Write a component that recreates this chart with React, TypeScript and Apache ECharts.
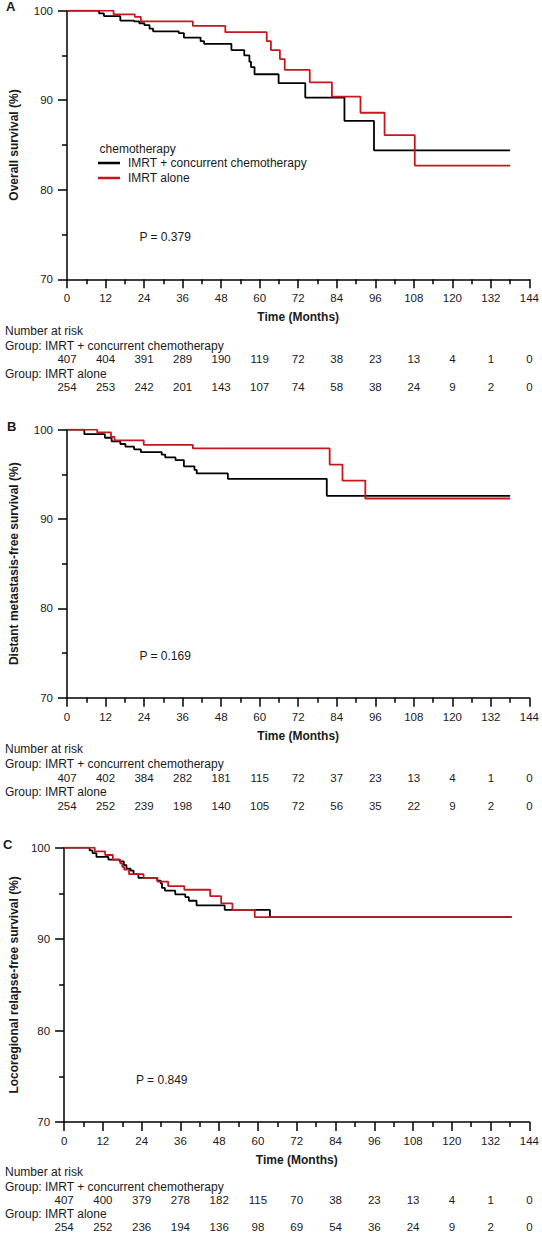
import React, { useEffect, useRef } from "react";
import * as echarts from "echarts";

// ---- Data ----
const monthTicks = [0, 12, 24, 36, 48, 60, 72, 84, 96, 108, 120, 132, 144];
const groupNames = ["IMRT + concurrent chemotherapy", "IMRT alone"];

// Panel A: Overall survival
const osChemoTimes = [0, 10, 11.5, 16.6, 20.9, 22.5, 24.1, 25.7, 26.8, 34.8, 36.4, 41.6, 42.7, 51.2, 55.2, 56.8, 57.3, 58.4, 65.9, 74.2, 86.4, 95.6, 138];
const osChemoSurv = [100, 99.7, 99.4, 98.9, 98.8, 98.6, 98.4, 98.0, 97.7, 97.5, 97.0, 96.6, 96.3, 95.6, 95.0, 94.3, 93.7, 92.9, 91.9, 90.3, 87.7, 84.4, 84.4];
const osAloneTimes = [0, 14.5, 21.1, 23, 39.2, 49.3, 62.2, 63.5, 66.3, 67.8, 75.6, 82.5, 91.4, 98.9, 108.3, 138];
const osAloneSurv = [100, 99.6, 99.3, 98.8, 98.3, 97.6, 96.6, 95.6, 94.6, 93.4, 92.0, 90.4, 88.6, 86.1, 82.7, 82.7];
const osRiskChemo = [407, 404, 391, 289, 190, 119, 72, 38, 23, 13, 4, 1, 0];
const osRiskAlone = [254, 253, 242, 201, 143, 107, 74, 58, 38, 24, 9, 2, 0];

// Panel B: Distant metastasis-free survival
const dmfsChemoTimes = [0, 5.4, 11.8, 13.9, 16.6, 18.2, 20.9, 23, 29.5, 30.6, 33.8, 36.4, 39.7, 40.4, 50.1, 80.9, 138];
const dmfsChemoSurv = [100, 99.5, 99.1, 98.7, 98.4, 98.1, 97.8, 97.5, 97.2, 96.9, 96.6, 95.9, 95.5, 95.1, 94.5, 92.6, 92.6];
const dmfsAloneTimes = [0, 9.4, 13.7, 14.8, 23.9, 39.2, 81.8, 85.8, 92.9, 138];
const dmfsAloneSurv = [100, 99.7, 99.2, 98.8, 98.3, 97.9, 96.1, 94.3, 92.3, 92.3];
const dmfsRiskChemo = [407, 402, 384, 282, 181, 115, 72, 37, 23, 13, 4, 1, 0];
const dmfsRiskAlone = [254, 252, 239, 198, 140, 105, 72, 56, 35, 22, 9, 2, 0];

// Panel C: Locoregional relapse-free survival
const lrfsChemoTimes = [0, 7.9, 8.8, 10, 13.7, 17.2, 18.5, 19.3, 20.6, 21.5, 23, 28.8, 29.9, 30.3, 31.2, 34.4, 37.5, 38.6, 41, 49.7, 63.7, 138.5];
const lrfsChemoSurv = [100, 99.7, 99.4, 99.0, 98.7, 98.5, 98.1, 97.7, 97.5, 97.1, 96.7, 96.4, 96.1, 95.6, 95.3, 94.9, 94.6, 94.2, 93.7, 93.2, 92.4, 92.4];
const lrfsAloneTimes = [0, 9.5, 12.7, 15.1, 17.4, 18, 18.6, 20.1, 24.6, 28.9, 32.2, 37.2, 45.2, 48.6, 52.1, 59, 138.5];
const lrfsAloneSurv = [100, 99.6, 99.2, 98.7, 98.3, 97.9, 97.6, 97.1, 96.7, 96.3, 95.8, 95.4, 94.7, 93.9, 93.2, 92.4, 92.4];
const lrfsRiskChemo = [407, 400, 379, 278, 182, 115, 70, 38, 23, 13, 4, 1, 0];
const lrfsRiskAlone = [254, 252, 236, 194, 136, 98, 69, 54, 36, 24, 9, 2, 0];

const panelLetters = ["A", "B", "C"];
const yTitles = [
  "Overall survival (%)",
  "Distant metastasis-free survival (%)",
  "Locoregional relapse-free survival (%)",
];
const pValues = ["P = 0.379", "P = 0.169", "P = 0.849"];

// ---- Layout / style ----
const FONT = "'Liberation Sans', Arial, sans-serif";
const TEXT = "#1a1a1a";
const BLACK = "#000000";
const RED = "#c8161e";

const grids = [
  { left: 65.7, top: 10.7, width: 464.6, height: 268.6 },
  { left: 65.7, top: 429.7, width: 464.6, height: 268 },
  { left: 60.3, top: 847.7, width: 471.7, height: 275.6 },
];
const riskOffsets = [
  [74, 102],
  [74, 102],
  [72, 99],
];
const textRows = [
  [331, 346, 374],
  [749, 764, 792],
  [1172, 1187, 1214],
];
const letterPos = [
  [6, 6],
  [7, 426],
  [3, 844.5],
];
const pPos = [
  [139.4, 237],
  [139.4, 656],
  [136, 1080],
];
const yNameGaps = [47, 47, 42];

const panels = [
  { chemoT: osChemoTimes, chemoS: osChemoSurv, aloneT: osAloneTimes, aloneS: osAloneSurv, riskC: osRiskChemo, riskA: osRiskAlone },
  { chemoT: dmfsChemoTimes, chemoS: dmfsChemoSurv, aloneT: dmfsAloneTimes, aloneS: dmfsAloneSurv, riskC: dmfsRiskChemo, riskA: dmfsRiskAlone },
  { chemoT: lrfsChemoTimes, chemoS: lrfsChemoSurv, aloneT: lrfsAloneTimes, aloneS: lrfsAloneSurv, riskC: lrfsRiskChemo, riskA: lrfsRiskAlone },
];

function buildOption() {
  const xAxis: any[] = [];
  const yAxis: any[] = [];
  const series: any[] = [];
  const graphic: any[] = [];

  panels.forEach((p, g) => {
    xAxis.push({
      type: "value",
      gridIndex: g,
      min: 0,
      max: 144,
      interval: 12,
      name: "Time (Months)",
      nameLocation: "middle",
      nameGap: 32,
      nameTextStyle: { fontFamily: FONT, fontSize: 12, fontWeight: "bold", color: TEXT },
      axisLine: { show: true, onZero: false, lineStyle: { color: BLACK, width: 1.5 } },
      axisTick: { show: true, inside: false, length: 9, lineStyle: { color: BLACK, width: 1.5 } },
      minorTick: { show: true, splitNumber: 2, length: 5, lineStyle: { color: BLACK, width: 1.5 } },
      splitLine: { show: false },
      axisLabel: { fontFamily: FONT, fontSize: 11.5, color: TEXT, margin: 13 },
    });
    yAxis.push({
      type: "value",
      gridIndex: g,
      min: 70,
      max: 100,
      interval: 10,
      name: yTitles[g],
      nameLocation: "middle",
      nameGap: yNameGaps[g],
      nameTextStyle: { fontFamily: FONT, fontSize: 12, fontWeight: "bold", color: TEXT },
      axisLine: { show: true, onZero: false, lineStyle: { color: BLACK, width: 1.5 } },
      axisTick: { show: true, inside: false, length: 9, lineStyle: { color: BLACK, width: 1.5 } },
      minorTick: { show: true, splitNumber: 2, length: 5, lineStyle: { color: BLACK, width: 1.5 } },
      splitLine: { show: false },
      axisLabel: { fontFamily: FONT, fontSize: 11.5, color: TEXT, margin: 14 },
    });

    series.push({
      name: groupNames[0],
      type: "line",
      step: "end",
      xAxisIndex: g,
      yAxisIndex: g,
      showSymbol: false,
      symbol: "none",
      lineStyle: { color: BLACK, width: 1.8 },
      itemStyle: { color: BLACK },
      data: p.chemoT.map((t, i) => [t, p.chemoS[i]]),
      z: 3,
    });
    series.push({
      name: groupNames[1],
      type: "line",
      step: "end",
      xAxisIndex: g,
      yAxisIndex: g,
      showSymbol: false,
      symbol: "none",
      lineStyle: { color: RED, width: 1.8 },
      itemStyle: { color: RED },
      data: p.aloneT.map((t, i) => [t, p.aloneS[i]]),
      z: 4,
    });

    // Letters, p-values, risk-table row titles
    graphic.push({
      type: "text",
      x: letterPos[g][0],
      y: letterPos[g][1],
      style: { text: panelLetters[g], font: `bold 13px ${FONT}`, fill: TEXT, verticalAlign: "middle", align: "left" },
    });
    graphic.push({
      type: "text",
      x: pPos[g][0],
      y: pPos[g][1],
      style: { text: pValues[g], font: `12px ${FONT}`, fill: TEXT, verticalAlign: "middle", align: "left" },
    });
    const rowTexts = ["Number at risk", "Group: " + groupNames[0], "Group: " + groupNames[1]];
    rowTexts.forEach((txt, k) => {
      graphic.push({
        type: "text",
        x: 5,
        y: textRows[g][k],
        style: { text: txt, font: `12px ${FONT}`, fill: TEXT, verticalAlign: "middle", align: "left" },
      });
    });
  });

  // Risk-table number rows as extra x axes sharing each panel's scale
  panels.forEach((p, g) => {
    [p.riskC, p.riskA].forEach((arr, r) => {
      xAxis.push({
        type: "value",
        gridIndex: g,
        min: 0,
        max: 144,
        interval: 12,
        position: "bottom",
        offset: riskOffsets[g][r],
        axisLine: { show: false },
        axisTick: { show: false },
        splitLine: { show: false },
        axisLabel: {
          fontFamily: FONT,
          fontSize: 11.5,
          color: TEXT,
          margin: 0,
          showMinLabel: true,
          showMaxLabel: true,
          formatter: (v: number) => {
            const idx = monthTicks.indexOf(Math.round(v));
            return idx >= 0 ? String(arr[idx]) : "";
          },
        },
      });
    });
  });

  graphic.push({
    type: "text",
    x: 99.6,
    y: 149,
    style: { text: "chemotherapy", font: `12px ${FONT}`, fill: TEXT, verticalAlign: "middle", align: "left" },
  });

  return {
    animation: false,
    backgroundColor: "#ffffff",
    grid: grids.map((gr) => ({ ...gr, containLabel: false })),
    xAxis,
    yAxis,
    series,
    graphic,
    legend: {
      show: true,
      orient: "vertical",
      left: 98,
      top: 155.5,
      padding: 0,
      itemGap: 0,
      itemWidth: 22,
      itemHeight: 2.5,
      icon: "rect",
      selectedMode: false,
      data: groupNames,
      textStyle: { fontFamily: FONT, fontSize: 12, color: TEXT, lineHeight: 15, padding: [0, 0, 0, 3] },
    },
  };
}

export default function App() {
  const ref = useRef<HTMLDivElement>(null);
  useEffect(() => {
    if (!ref.current) return;
    const chart = echarts.init(ref.current, null, { renderer: "svg" });
    chart.setOption(buildOption() as any);
    return () => chart.dispose();
  }, []);
  return (
    <div
      ref={ref}
      style={{ position: "absolute", left: 0, top: 0, width: 542, height: 1233, background: "#fff" }}
    />
  );
}
